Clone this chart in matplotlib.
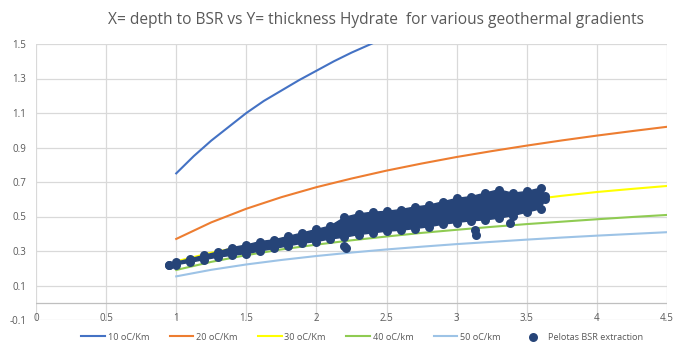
import matplotlib.pyplot as plt

# gradient curves (depth to BSR vs hydrate thickness)
grad_x = [1.0, 1.25, 1.5, 1.75, 2.0, 2.25, 2.5, 2.75, 3.0, 3.25, 3.5, 3.75, 4.0, 4.25, 4.5]
g20 = [0.37, 0.466, 0.545, 0.612, 0.67, 0.72, 0.766, 0.807, 0.845, 0.879, 0.911, 0.941, 0.969, 0.995, 1.02]
g30 = [0.24, 0.29, 0.33, 0.37, 0.41, 0.45, 0.48, 0.51, 0.54, 0.565, 0.595, 0.62, 0.642, 0.66, 0.677]
g40 = [0.19, 0.237, 0.276, 0.309, 0.337, 0.362, 0.384, 0.405, 0.423, 0.44, 0.456, 0.47, 0.484, 0.497, 0.509]
g50 = [0.153, 0.191, 0.222, 0.248, 0.271, 0.291, 0.309, 0.325, 0.34, 0.353, 0.366, 0.378, 0.389, 0.399, 0.409]
# the 10 oC/Km curve is steep, read at a finer step; it runs off the top at ~2.4
g10_x = [1.0, 1.125, 1.25, 1.375, 1.5, 1.625, 1.75, 1.875, 2.0, 2.125, 2.25, 2.375, 2.5]
g10 = [0.75, 0.85, 0.94, 1.02, 1.10, 1.17, 1.23, 1.29, 1.345, 1.40, 1.45, 1.495, 1.54]

# Pelotas BSR extraction: the dense cloud, as upper/lower point rows
bsr_x = [0.95, 1.0, 1.1, 1.2, 1.3, 1.4, 1.5, 1.6, 1.7, 1.8, 1.9, 2.0, 2.1, 2.2, 2.3,
         2.4, 2.5, 2.6, 2.7, 2.8, 2.9, 3.0, 3.1, 3.2, 3.3, 3.4, 3.5, 3.6, 3.63]
bsr_hi = [0.22, 0.235, 0.255, 0.275, 0.295, 0.32, 0.335, 0.355, 0.365, 0.385, 0.405, 0.425, 0.445, 0.495, 0.515,
          0.525, 0.53, 0.54, 0.555, 0.565, 0.585, 0.605, 0.615, 0.635, 0.655, 0.635, 0.645, 0.665, 0.62]
bsr_lo = [0.22, 0.22, 0.235, 0.25, 0.265, 0.275, 0.285, 0.30, 0.315, 0.33, 0.345, 0.355, 0.37, 0.38, 0.395,
          0.405, 0.415, 0.42, 0.43, 0.44, 0.455, 0.465, 0.475, 0.48, 0.49, 0.505, 0.525, 0.545, 0.60]
# odd points sticking out below the cloud
spike_x = [2.2, 2.21, 3.13, 3.14, 3.38]
spike_y = [0.33, 0.315, 0.42, 0.395, 0.46]

x_ticks = [0, 0.5, 1, 1.5, 2, 2.5, 3, 3.5, 4, 4.5]
y_ticks = [-0.1, 0.1, 0.3, 0.5, 0.7, 0.9, 1.1, 1.3, 1.5]

grey = '#595959'
plt.rcParams['font.family'] = ['Open Sans', 'DejaVu Sans']

fig = plt.figure(figsize=(6.74, 3.5), dpi=100)
ax = fig.add_axes([36/674, 1-320/350, 631/674, 276/350])

ax.plot(g10_x, g10, color='#4472C4', lw=1.5, label='10 oC/Km')
ax.plot(grad_x, g20, color='#ED7D31', lw=1.5, label='20 oC/Km')
ax.plot(grad_x, g30, color='#FFFF00', lw=1.5, label='30 oC/Km')
ax.plot(grad_x, g40, color='#8FCB52', lw=1.5, label='40 oC/km')
ax.plot(grad_x, g50, color='#9DC3E6', lw=1.5, label='50 oC/km')

navy = '#264478'
# solid body of the cloud between the two rows of points
ax.fill(bsr_x + bsr_x[::-1], bsr_hi + bsr_lo[::-1], facecolor=navy, edgecolor=navy,
        lw=1, zorder=5)
ax.scatter(bsr_x, bsr_hi, s=42, color=navy, lw=0, zorder=5, label='Pelotas BSR extraction')
ax.scatter(bsr_x, bsr_lo, s=42, color=navy, lw=0, zorder=5)
ax.scatter(spike_x, spike_y, s=42, color=navy, lw=0, zorder=5)

ax.set_xlim(0, 4.5)
ax.set_ylim(-0.1, 1.5)
ax.set_xticks(x_ticks)
ax.set_xticklabels([f'{t:g}' for t in x_ticks])
ax.set_yticks(y_ticks)
ax.set_yticklabels([f'{t:g}' for t in y_ticks])
ax.grid(True, color='#d9d9d9', lw=0.9)
ax.set_axisbelow(True)
ax.axhline(0, color='#bfbfbf', lw=0.9, zorder=1)
for s in ax.spines.values():
    s.set_visible(False)
ax.tick_params(length=0, labelsize=7, labelcolor=grey)
ax.tick_params(axis='x', pad=-5)
ax.tick_params(axis='y', pad=7)

fig.suptitle('X= depth to BSR vs Y= thickness Hydrate  for various geothermal gradients',
             x=376/674, y=1-20/350, va='center', fontsize=11.2, color=grey)

fig.legend(loc='center', bbox_to_anchor=(362/674, 1-337/350), ncol=6, frameon=False,
           fontsize=6.6, labelcolor=grey, handlelength=2.6, columnspacing=2.2, handletextpad=0.3)

fig.savefig('out.png', dpi=100)
